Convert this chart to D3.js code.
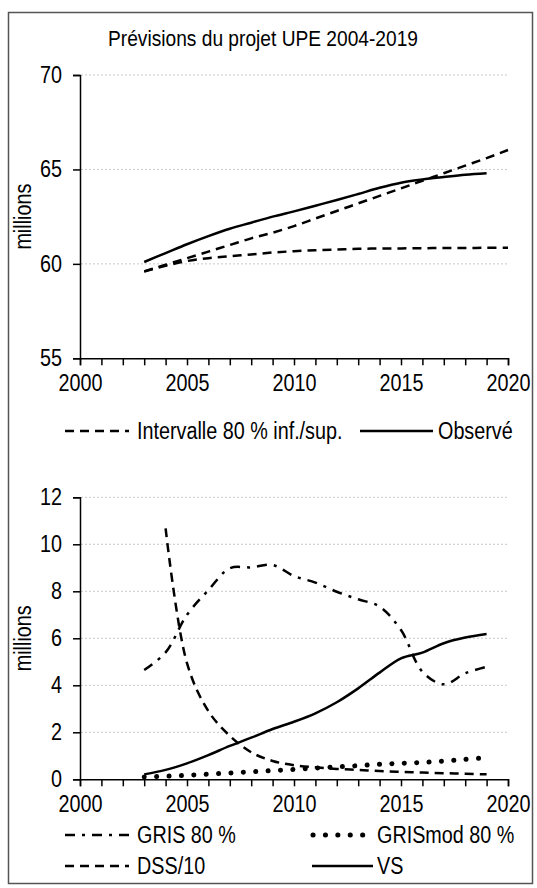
<!DOCTYPE html>
<html><head><meta charset="utf-8">
<script src="https://cdn.jsdelivr.net/npm/d3@7"></script>
<style>
body{margin:0;background:#fff;}
svg text{font-family:"Liberation Sans",Arial,sans-serif;fill:#000;}
</style></head>
<body><svg id="c" width="537" height="888"></svg>
<script>
// ---- data ----
const title = "Prévisions du projet UPE 2004-2019";
const yearsTop = [2003,2004,2005,2006,2007,2008,2009,2010,2011,2012,2013,2014,2015,2016,2017,2018,2019,2020];
const upper80 = [59.6,59.95,60.3,60.65,61.0,61.35,61.65,62.0,62.4,62.8,63.2,63.6,64.0,64.4,64.8,65.2,65.6,66.03];
const lower80 = [59.6,59.9,60.15,60.3,60.4,60.5,60.6,60.67,60.72,60.76,60.8,60.81,60.82,60.83,60.84,60.84,60.85,60.85];
const yearsObs = [2003,2004,2005,2006,2007,2008,2009,2010,2011,2012,2013,2014,2015,2016,2017,2018,2019];
const observe = [60.1,60.57,61.04,61.47,61.86,62.18,62.5,62.78,63.08,63.38,63.7,64.03,64.3,64.47,64.6,64.72,64.8];

const yearsBot = [2003,2004,2005,2006,2007,2008,2009,2010,2011,2012,2013,2014,2015,2016,2017,2018,2019];
const gris80 = [4.65,5.4,7.0,8.05,8.98,9.02,9.12,8.65,8.37,7.98,7.66,7.35,6.35,4.58,4.04,4.51,4.79];
const grisMod80 = [0.1,0.13,0.17,0.22,0.27,0.32,0.37,0.42,0.48,0.53,0.58,0.64,0.68,0.72,0.78,0.85,0.92];
const yearsDss = [2004,2005,2006,2007,2008,2009,2010,2011,2012,2013,2014,2015,2016,2017,2018,2019];
const dss10 = [10.68,4.94,2.9,1.85,1.15,0.78,0.6,0.51,0.44,0.4,0.35,0.32,0.29,0.26,0.24,0.21];
const vs = [0.21,0.4,0.68,1.03,1.42,1.77,2.14,2.45,2.81,3.28,3.87,4.54,5.15,5.39,5.79,6.03,6.18];

const xTicksLabels = [2000,2005,2010,2015,2020];
const yTicksTop = [55,60,65,70];
const yTicksBot = [0,2,4,6,8,10,12];
const legendTop = ["Intervalle 80 % inf./sup.","Observé"];
const legendBot = ["GRIS 80 %","GRISmod 80 %","DSS/10","VS"];
const yLabel = "millions";

// ---- drawing ----
const svg = d3.select("#c");
const FS = 23, SX = 0.86;   // narrow look: horizontal squeeze of the sans font
svg.append("rect").attr("x",8.5).attr("y",12.5).attr("width",524).attr("height",871)
  .attr("fill","#fff").attr("stroke","#555").attr("stroke-width",1.5);

function addText(g, x, y, str, anchor, rot, fs){
  return g.append("text")
    .attr("transform",`translate(${x},${y})${rot?" rotate("+rot+")":""} scale(${SX},1)`)
    .attr("dy","0.35em").attr("text-anchor",anchor||"start")
    .style("font-size",(fs||FS)+"px").text(str);
}

addText(svg, 263, 38, title, "middle", 0, 22.3);

const styles = {
  dashed:{dash:"9,6",w:2.5,cap:"butt"},
  solid:{dash:null,w:2.5,cap:"butt"},
  dashdot:{dash:"10,7,3,7",w:2.5,cap:"butt"},
  dotted:{dash:"0.1,12.3",w:5,cap:"round"}
};

function panel(cfg){
  const x = d3.scaleLinear().domain([2000,2020]).range([80,508]);
  const y = d3.scaleLinear().domain(cfg.ydom).range([cfg.y0,cfg.y1]);
  const g = svg.append("g");
  // grid
  g.selectAll(".grid").data(cfg.yticks.filter(v=>v!==cfg.ydom[0])).enter().append("line")
    .attr("x1",81).attr("x2",508).attr("y1",d=>y(d)).attr("y2",d=>y(d))
    .attr("stroke","#c8c8c8").attr("stroke-width",1).attr("stroke-dasharray","2,2");
  // y axis
  const ya = g.append("g").attr("transform","translate(80,0)")
    .call(d3.axisLeft(y).tickValues(cfg.yticks).tickSize(7).tickPadding(11).tickFormat(d3.format("d")));
  ya.select(".domain").attr("stroke","#000").attr("stroke-width",1.5);
  ya.selectAll(".tick line").attr("stroke","#000").attr("stroke-width",1.5);
  ya.selectAll("text").style("font-size",FS+"px").attr("font-family",null)
    .attr("x",-18/SX).attr("transform",`scale(${SX},1)`);
  // x axis
  const xa = g.append("g").attr("transform",`translate(0,${cfg.y0})`)
    .call(d3.axisBottom(x).tickValues(d3.range(2000,2021)).tickSize(7).tickPadding(9)
      .tickFormat(d=>xTicksLabels.includes(d)?String(d):""));
  xa.select(".domain").attr("stroke","#000").attr("stroke-width",1.5);
  xa.selectAll(".tick line").attr("stroke","#000").attr("stroke-width",1.5);
  xa.selectAll("text").style("font-size",FS+"px").attr("font-family",null)
    .attr("transform",`scale(${SX},1)`);
  // y label
  addText(g, 23, (cfg.y0+cfg.y1)/2, yLabel, "middle", -90);
  // series
  const line = d3.line().x(d=>x(d[0])).y(d=>y(d[1])).curve(d3.curveCatmullRom.alpha(0.5));
  cfg.series.forEach(s=>{
    const st = styles[s.style];
    g.append("path").datum(d3.zip(s.xs,s.ys)).attr("d",line).attr("fill","none")
      .attr("stroke","#000").attr("stroke-width",st.w).attr("stroke-linecap",st.cap)
      .attr("stroke-dasharray",st.dash);
  });
  // legend
  cfg.legend.forEach(l=>{
    const st = styles[l.style];
    g.append("line").attr("x1",l.x1).attr("x2",l.x2).attr("y1",l.y).attr("y2",l.y)
      .attr("stroke","#000").attr("stroke-width",st.w).attr("stroke-linecap",st.cap)
      .attr("stroke-dasharray",st.dash);
    addText(g, l.tx, l.y, l.label, "start");
  });
}

panel({
  ydom:[55,70], y0:358.3, y1:75, yticks:yTicksTop,
  series:[
    {xs:yearsTop, ys:upper80, style:"dashed"},
    {xs:yearsTop, ys:lower80, style:"dashed"},
    {xs:yearsObs, ys:observe, style:"solid"}
  ],
  legend:[
    {label:legendTop[0], style:"dashed", x1:65, x2:129, tx:137, y:431},
    {label:legendTop[1], style:"solid", x1:360, x2:433, tx:438, y:431}
  ]
});

panel({
  ydom:[0,12], y0:779.3, y1:497.3, yticks:yTicksBot,
  series:[
    {xs:yearsBot, ys:gris80, style:"dashdot"},
    {xs:yearsBot, ys:grisMod80, style:"dotted"},
    {xs:yearsDss, ys:dss10, style:"dashed"},
    {xs:yearsBot, ys:vs, style:"solid"}
  ],
  legend:[
    {label:legendBot[0], style:"dashdot", x1:65, x2:129, tx:137, y:835},
    {label:legendBot[1], style:"dotted", x1:313, x2:373, tx:377, y:835},
    {label:legendBot[2], style:"dashed", x1:65, x2:129, tx:137, y:866},
    {label:legendBot[3], style:"solid", x1:312, x2:373, tx:377, y:866}
  ]
});
</script></body></html>
